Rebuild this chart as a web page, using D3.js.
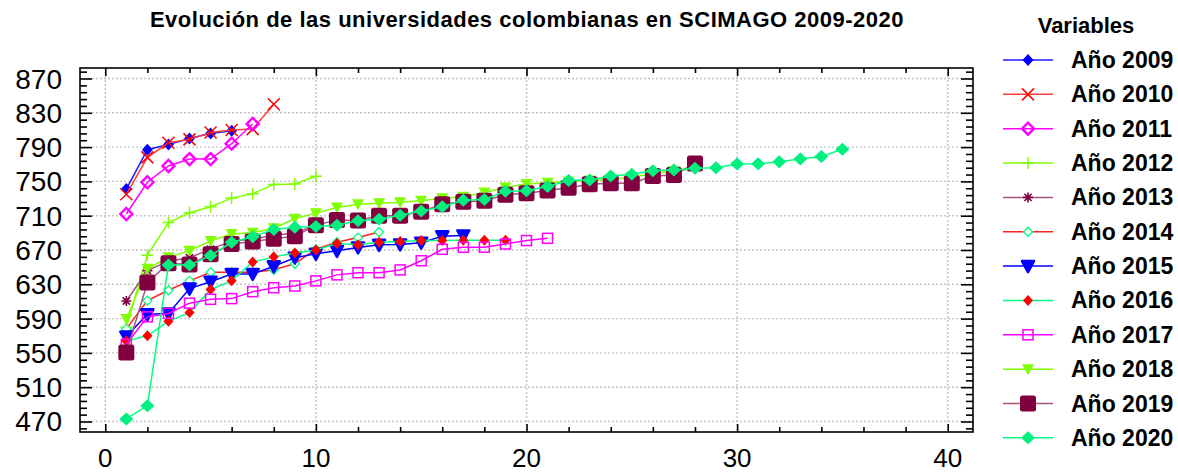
<!DOCTYPE html>
<html>
<head>
<meta charset="utf-8">
<script src="https://cdn.jsdelivr.net/npm/d3@7"></script>
<style>
  body { margin: 0; background: #fff; }
  svg { display: block; font-family: Arial, "Liberation Sans", Helvetica, sans-serif; }
</style>
</head>
<body>
<svg id="chart" width="1178" height="473"></svg>
<script>
// Puntaje SCIMAGO por posición de cada universidad, un arreglo por año
const anio2009 = [741, 787, 793, 800, 806, 809];
const anio2010 = [735, 778, 795, 799, 807, 810, 811, 840];
const anio2011 = [712, 749, 768, 776, 776, 794, 817];
const anio2012 = [580, 664, 702, 713.5, 720.5, 730.5, 735.5, 746.5, 747, 756];
const anio2013 = [610.5, 646, 657, 661, 671, 680, 683, 687, 690, 699];
const anio2014 = [578, 611, 623, 634, 644, 644, 644, 647, 654, 671, 679, 684.5, 691];
const anio2015 = [569, 595, 596, 625, 633, 642, 642, 651, 661, 665.5, 669, 673, 676, 676.5, 678.5, 686, 687];
const anio2016 = [564, 570, 587, 597, 624, 634, 656, 662, 666.5, 670, 677.5, 676, 679, 680, 681, 681, 681.5, 681.5, 681.5];
const anio2017 = [560, 592, 596, 608, 612.5, 613.3, 621.4, 626, 628, 634, 641, 643.5, 643.5, 646.7, 657.5, 670.8, 673.2, 673.2, 677, 681, 683.6];
const anio2018 = [589.5, 648, 661.5, 669, 680.5, 688.7, 690, 695.3, 706.5, 713, 719.5, 723.3, 724.5, 725.6, 727.5, 730.3, 732.2, 737, 743, 747, 748.5, 750, 751, 752, 755, 759, 762, 765];
const anio2019 = [550.5, 632, 654.5, 653, 665, 677, 680, 683, 686, 699, 705, 704.5, 710, 710, 714.7, 723.3, 726.3, 727.5, 734.5, 736.1, 739.5, 742.7, 746.6, 747.8, 747.8, 756.3, 757.5, 771];
const anio2020 = [473, 488.5, 652.5, 652.5, 663.5, 679, 685.5, 694, 696.5, 697.5, 699, 704, 706, 710.5, 715.5, 720.5, 728, 729, 738.5, 739, 744, 751, 751.6, 756.3, 758.3, 762.3, 763.3, 765.3, 766, 770.3, 770.5, 773, 776, 779, 787.4];

const seriesNames = ["Año 2009", "Año 2010", "Año 2011", "Año 2012", "Año 2013", "Año 2014",
                     "Año 2015", "Año 2016", "Año 2017", "Año 2018", "Año 2019", "Año 2020"];
const seriesValues = [anio2009, anio2010, anio2011, anio2012, anio2013, anio2014,
                      anio2015, anio2016, anio2017, anio2018, anio2019, anio2020];

const xTickValues = [0, 10, 20, 30, 40];
const yTickValues = [470, 510, 550, 590, 630, 670, 710, 750, 790, 830, 870];

const titleText = "Evolución de las universidades colombianas en SCIMAGO 2009-2020";
const legendTitle = "Variables";

// Estilo de línea y marcador por serie
const styles = [
  { line: "#1a1aff", marker: "diamond",  color: "#0000ff" },
  { line: "#ff3b3b", marker: "cross",    color: "#ff0000" },
  { line: "#ff00ff", marker: "diamondOpen", color: "#ff00ff" },
  { line: "#80ff00", marker: "plus",     color: "#80ff00" },
  { line: "#a4557f", marker: "asterisk", color: "#800040" },
  { line: "#ff2020", marker: "diamondSmallOpen", color: "#00ff80" },
  { line: "#0000ff", marker: "triangle", color: "#0000ff" },
  { line: "#00ff80", marker: "diamondSmall", color: "#ff0000" },
  { line: "#ff00ff", marker: "squareOpen", color: "#ff00ff" },
  { line: "#80ff00", marker: "triangleSmall", color: "#80ff00" },
  { line: "#a4557f", marker: "squareBig", color: "#800040" },
  { line: "#00ff80", marker: "diamondBig", color: "#00f080" }
];

const svg = d3.select("#chart");
const plot = { left: 80, right: 973, top: 68, bottom: 432 };

const x = d3.scaleLinear().domain([-1.2, 41.2]).range([plot.left, plot.right]);
const y = d3.scaleLinear().domain([457.75, 882.25]).range([plot.bottom, plot.top]);

// Cuadrícula punteada
const grid = svg.append("g");
grid.selectAll("line.gy").data(yTickValues).join("line")
  .attr("x1", plot.left).attr("x2", plot.right)
  .attr("y1", d => y(d)).attr("y2", d => y(d))
  .attr("stroke", "#c4c4c4").attr("stroke-width", 1.4).attr("stroke-dasharray", "2,2");
grid.selectAll("line.gx").data(xTickValues).join("line")
  .attr("y1", plot.top).attr("y2", plot.bottom)
  .attr("x1", d => x(d)).attr("x2", d => x(d))
  .attr("stroke", "#c4c4c4").attr("stroke-width", 1.4).attr("stroke-dasharray", "2,2");

// Ejes con marcas hacia adentro en los cuatro lados
const yMinor = d3.range(462, 882, 8).filter(v => v % 40 !== 30 && v > y.domain()[0]);
const xMinor = d3.range(0, 42, 2).filter(v => v % 10 !== 0);

const axes = svg.append("g");
// izquierda
axes.append("g").attr("transform", `translate(${plot.left},0)`)
  .call(d3.axisRight(y).tickValues(yTickValues).tickSize(12).tickFormat(""));
axes.append("g").attr("transform", `translate(${plot.left},0)`)
  .call(d3.axisRight(y).tickValues(yMinor).tickSize(7).tickFormat(""));
// derecha
axes.append("g").attr("transform", `translate(${plot.right},0)`)
  .call(d3.axisLeft(y).tickValues(yTickValues).tickSize(12).tickFormat(""));
axes.append("g").attr("transform", `translate(${plot.right},0)`)
  .call(d3.axisLeft(y).tickValues(yMinor).tickSize(7).tickFormat(""));
// abajo
axes.append("g").attr("transform", `translate(0,${plot.bottom})`)
  .call(d3.axisTop(x).tickValues(xTickValues).tickSize(8).tickFormat(""));
axes.append("g").attr("transform", `translate(0,${plot.bottom})`)
  .call(d3.axisTop(x).tickValues(xMinor).tickSize(5).tickFormat(""));
// arriba
axes.append("g").attr("transform", `translate(0,${plot.top})`)
  .call(d3.axisBottom(x).tickValues(xTickValues).tickSize(8).tickFormat(""));
axes.append("g").attr("transform", `translate(0,${plot.top})`)
  .call(d3.axisBottom(x).tickValues(xMinor).tickSize(5).tickFormat(""));
axes.selectAll(".domain").remove();
axes.selectAll(".tick line").attr("stroke", "#000").attr("stroke-width", 1.6);

svg.append("rect")
  .attr("x", plot.left).attr("y", plot.top)
  .attr("width", plot.right - plot.left).attr("height", plot.bottom - plot.top)
  .attr("fill", "none").attr("stroke", "#000").attr("stroke-width", 1.6);

// Etiquetas de los ejes
svg.append("g").selectAll("text").data(yTickValues).join("text")
  .attr("x", 62).attr("y", d => y(d) + 10)
  .attr("text-anchor", "end").attr("font-size", 28).attr("fill", "#000")
  .text(d => d);
svg.append("g").selectAll("text").data(xTickValues).join("text")
  .attr("x", d => x(d)).attr("y", 467)
  .attr("text-anchor", "middle").attr("font-size", 26).attr("fill", "#000")
  .text(d => d);

// Título
svg.append("text")
  .attr("x", 527).attr("y", 27)
  .attr("text-anchor", "middle").attr("font-size", 22).attr("font-weight", "bold")
  .attr("letter-spacing", 0.5)
  .text(titleText);

// Marcadores
function drawMarker(g, type, color) {
  switch (type) {
    case "diamond":
      g.append("path").attr("d", "M0,-6L5.5,0L0,6L-5.5,0Z").attr("fill", color); break;
    case "diamondBig":
      g.append("path").attr("d", "M0,-6.5L7,0L0,6.5L-7,0Z").attr("fill", color); break;
    case "diamondSmall":
      g.append("path").attr("d", "M0,-5.5L5,0L0,5.5L-5,0Z").attr("fill", color); break;
    case "diamondOpen":
      g.append("path").attr("d", "M0,-6L6,0L0,6L-6,0Z").attr("fill", "none")
        .attr("stroke", color).attr("stroke-width", 2.4); break;
    case "diamondSmallOpen":
      g.append("path").attr("d", "M0,-4.5L4.5,0L0,4.5L-4.5,0Z").attr("fill", "#fff")
        .attr("stroke", color).attr("stroke-width", 1.3); break;
    case "cross":
      g.append("path").attr("d", "M-6,-6L6,6M-6,6L6,-6").attr("stroke", color).attr("stroke-width", 1.5); break;
    case "plus":
      g.append("path").attr("d", "M-6,0L6,0M0,-6L0,6").attr("stroke", color).attr("stroke-width", 1.5); break;
    case "asterisk":
      g.append("path").attr("d", "M-5,0L5,0M0,-5L0,5M-3.6,-3.6L3.6,3.6M-3.6,3.6L3.6,-3.6")
        .attr("stroke", color).attr("stroke-width", 1.6); break;
    case "triangle":
      g.append("path").attr("d", "M-6,-5L6,-5L0,6Z").attr("fill", color)
        .attr("stroke", color).attr("stroke-width", 2.5).attr("stroke-linejoin", "round"); break;
    case "triangleSmall":
      g.append("path").attr("d", "M-6,-5L6,-5L0,6Z").attr("fill", color); break;
    case "squareOpen":
      g.append("rect").attr("x", -5).attr("y", -5).attr("width", 10).attr("height", 10)
        .attr("fill", "none").attr("stroke", color).attr("stroke-width", 1.5); break;
    case "squareBig":
      g.append("rect").attr("x", -8).attr("y", -8).attr("width", 16).attr("height", 16)
        .attr("rx", 2.5).attr("fill", color); break;
  }
}

const line = d3.line().x((d, i) => x(i + 1)).y(d => y(d));
const marks = svg.append("g");
seriesValues.forEach((vals, s) => {
  const st = styles[s];
  const g = marks.append("g");
  g.append("path").datum(vals).attr("d", line)
    .attr("fill", "none").attr("stroke", st.line).attr("stroke-width", 1.5);
  g.selectAll("g.pt").data(vals).join("g")
    .attr("transform", (d, i) => `translate(${x(i + 1)},${y(d)})`)
    .each(function () { drawMarker(d3.select(this), st.marker, st.color); });
});

// Leyenda
const legend = svg.append("g");
legend.append("text").attr("x", 1086).attr("y", 33).attr("text-anchor", "middle")
  .attr("font-size", 22).attr("font-weight", "bold").text(legendTitle);
seriesNames.forEach((name, s) => {
  const st = styles[s];
  const ly = 60 + s * 34.35;
  const row = legend.append("g").attr("transform", `translate(0,${ly})`);
  row.append("line").attr("x1", 1003).attr("x2", 1053).attr("y1", 0).attr("y2", 0)
    .attr("stroke", st.line).attr("stroke-width", 1.5);
  drawMarker(row.append("g").attr("transform", "translate(1028,0)"), st.marker, st.color);
  row.append("text").attr("x", 1071).attr("y", 8).attr("font-size", 23)
    .attr("font-weight", "bold").text(name);
});
</script>
</body>
</html>
